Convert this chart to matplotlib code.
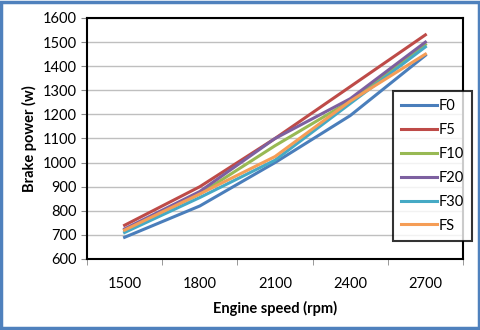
import numpy as np
import matplotlib.pyplot as plt
from matplotlib.patches import Rectangle

speeds = ["1500", "1800", "2100", "2400", "2700"]
f0 = [690, 820, 1000, 1195, 1445]
f5 = [740, 900, 1100, 1315, 1530]
f10 = [720, 870, 1070, 1255, 1490]
f20 = [725, 880, 1100, 1265, 1500]
f30 = [710, 855, 1010, 1245, 1480]
fs = [720, 870, 1025, 1255, 1450]

names = ["F0", "F5", "F10", "F20", "F30", "FS"]
colors = ["#4A7EBB", "#BE4B48", "#98B954", "#7D60A0", "#46AAC5", "#F59D56"]

plt.rcParams['font.family'] = ['Lato', 'DejaVu Sans']

fig = plt.figure(figsize=(4.8, 3.3), dpi=100)
ax = fig.add_axes([87/480, 1 - 259/330, (463-87)/480, (259-18)/330])

x = np.arange(1, len(speeds) + 1)
for vals, name, c in zip([f0, f5, f10, f20, f30, fs], names, colors):
    ax.plot(x, vals, color=c, lw=2.2, label=name)

ax.set_xlim(0.5, 5.5)
ax.set_ylim(600, 1600)
ax.set_yticks(range(600, 1601, 100))
ax.set_xticks(x)
ax.set_xticklabels(speeds)
ax.set_xticks(np.arange(0.5, 5.6, 1), minor=True)
ax.tick_params(axis='x', which='major', length=0, pad=13, labelsize=10.5)
ax.tick_params(axis='x', which='minor', length=4, color='#888888')
ax.tick_params(axis='y', length=4, color='#888888', labelsize=10.5)
ax.grid(axis='y', color='#BFBFBF', lw=1)
ax.set_axisbelow(True)
for s in ax.spines.values():
    s.set_linewidth(1.5)
    s.set_color('black')

ax.set_xlabel("Engine speed (rpm)", fontweight='bold', fontsize=10.5, labelpad=7)
ax.set_ylabel("Brake power (w)", fontweight='bold', fontsize=10.5, labelpad=4)

leg = ax.legend(loc='upper left', bbox_to_anchor=((393-87)/376, (259-91)/241),
                fontsize=10.5, frameon=True, fancybox=False, handlelength=2.5,
                handletextpad=0.1, labelspacing=0.68, borderpad=0.55,
                borderaxespad=0)
leg.get_frame().set_edgecolor('black')
leg.get_frame().set_linewidth(1.5)

fig.patches.append(Rectangle((0.003, 0.005), 0.994, 0.99, transform=fig.transFigure,
                             fill=False, edgecolor='#4F81BD', lw=2.5))

plt.savefig("out.png", dpi=100)
